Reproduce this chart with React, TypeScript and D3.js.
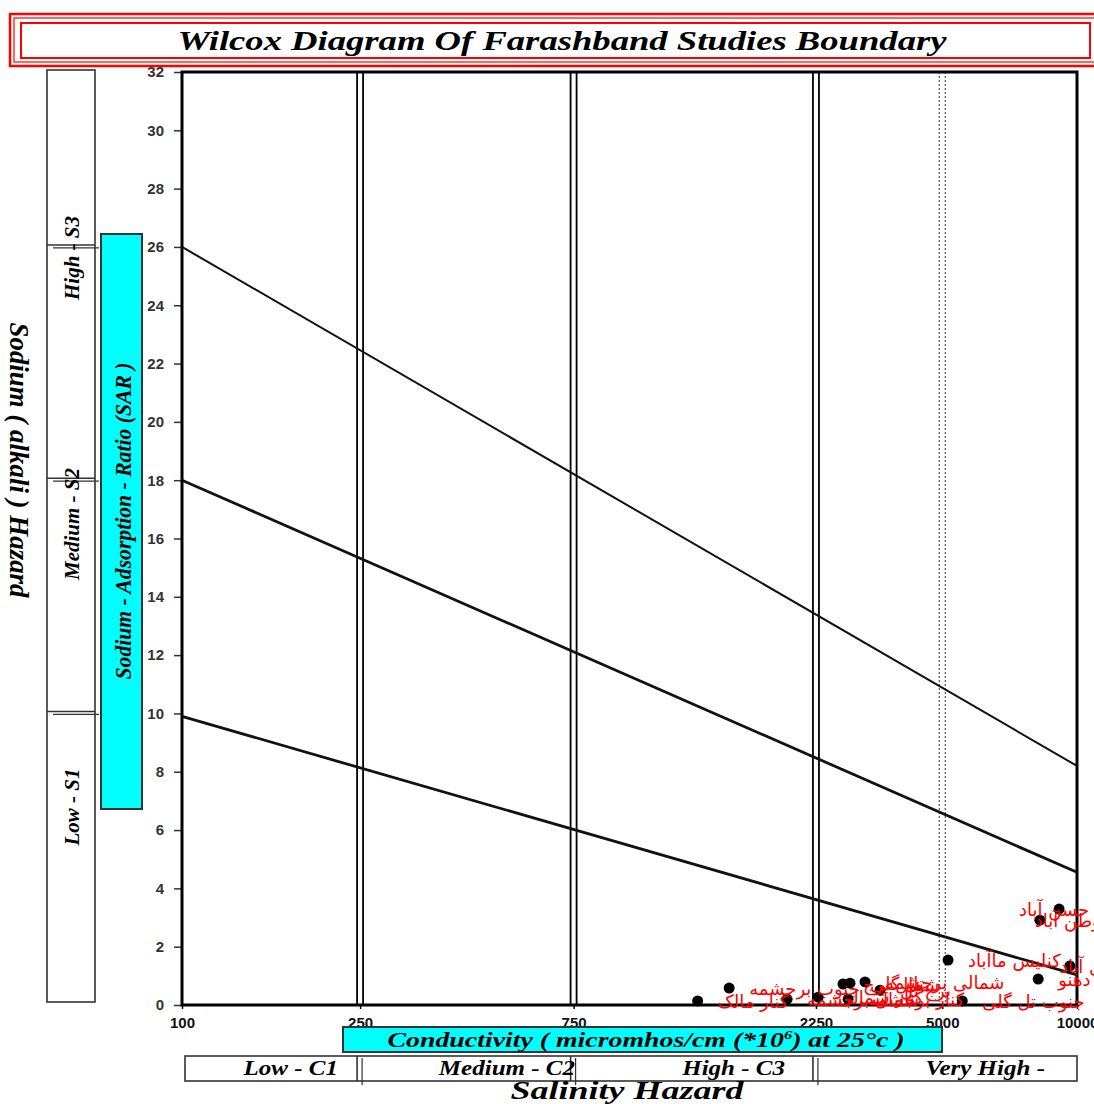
import React, { useEffect, useRef } from "react";
import * as d3 from "d3";

// axis ticks
const sarTicks = [0, 2, 4, 6, 8, 10, 12, 14, 16, 18, 20, 22, 24, 26, 28, 30, 32];
const ecTicks = [100, 250, 750, 2610, 5000, 10000];
const ecTickLabels = ["100", "250", "750", "2250", "5000", "10000"];

// class boundaries
const salinityBounds = [250, 750, 2610];
const veryHighBound = 5000;
const salinityClasses = ["Low - C1", "Medium - C2", "High - C3", "Very High -"];
const sodiumBounds = [10, 18, 26];
const sodiumClasses = ["Low - S1", "Medium - S2", "High - S3"];

// sodium hazard lines: SAR at EC=100 and at EC=10000
const hazardStart = [26, 18, 9.9];
const hazardEnd = [8.2, 4.55, 1.03];

// samples
const sampleNames = [
  "کنار مالک",
  "جنوب برجشمه",
  "شمال برجشمه",
  "کنار شمالی",
  "شمال برج",
  "تل گلی",
  "شمالی برجشمه",
  "برج تل",
  "کنار برجشمه",
  "کنلیس ماآباد",
  "جنوب تل گلی",
  "دهنو",
  "وطن آباد",
  "حسن آباد",
  "شمال آباد",
];
const sampleEC = [1420, 1670, 2250, 2640, 3000, 3110, 3360, 3630, 3080, 5150, 5540, 8190, 8260, 9120, 9640];
const sampleSAR = [0.14, 0.58, 0.2, 0.27, 0.72, 0.75, 0.79, 0.51, 0.2, 1.54, 0.14, 0.89, 2.91, 3.29, 1.34];

const W = 1094;
const H = 1104;

const App: React.FC = () => {
  const svgRef = useRef<SVGSVGElement>(null);

  useEffect(() => {
    if (!svgRef.current) return;
    document.body.style.margin = "0";
    const svg = d3.select(svgRef.current);
    svg.selectAll("*").remove();
    svg.attr("width", W).attr("height", H);

    const left = 182, right = 1077, top = 72, bottom = 1005;
    const x = d3.scaleLog().domain([100, 10000]).range([left, right]);
    const y = d3.scaleLinear().domain([0, 32]).range([bottom, top]);

    const serif = "'Liberation Serif', 'Times New Roman', serif";
    const sans = "'Liberation Sans', Arial, sans-serif";

    // stretch a serif label horizontally like the original
    const widen = (t: d3.Selection<SVGTextElement, unknown, null, undefined>, k: number) => {
      const len = (t.node() as SVGTextElement).getComputedTextLength();
      t.attr("textLength", len * k).attr("lengthAdjust", "spacingAndGlyphs");
    };

    // title box
    const tb = svg.append("g").attr("fill", "none").attr("stroke", "#ff0000");
    tb.append("rect").attr("x", 10).attr("y", 14).attr("width", 1092).attr("height", 52).attr("stroke-width", 2.5);
    tb.append("rect").attr("x", 14).attr("y", 18).attr("width", 1084).attr("height", 44).attr("stroke-width", 1.2);
    tb.append("rect").attr("x", 21).attr("y", 23).attr("width", 1069).attr("height", 35).attr("stroke-width", 2);
    svg
      .append("text")
      .attr("x", 562)
      .attr("y", 50)
      .attr("text-anchor", "middle")
      .attr("font-family", serif)
      .attr("font-weight", "bold")
      .attr("font-style", "italic")
      .attr("font-size", 28)
      .attr("textLength", 769)
      .attr("lengthAdjust", "spacingAndGlyphs")
      .text("Wilcox Diagram Of Farashband Studies Boundary");

    // y axis
    const yAxis = svg
      .append("g")
      .attr("transform", `translate(${left},0)`)
      .call(d3.axisLeft(y).tickValues(sarTicks).tickSize(8).tickPadding(10));
    yAxis.select(".domain").remove();
    yAxis.selectAll("line").attr("stroke", "#333").attr("stroke-width", 1.5);
    yAxis
      .selectAll("text")
      .attr("font-family", sans)
      .attr("font-weight", "bold")
      .attr("font-size", 15)
      .attr("fill", "#333");

    // x axis
    const xAxis = svg
      .append("g")
      .attr("transform", `translate(0,${bottom})`)
      .call(
        d3
          .axisBottom(x)
          .tickValues(ecTicks)
          .tickFormat((_d, i) => ecTickLabels[i])
          .tickSize(4)
          .tickPadding(8)
      );
    xAxis.select(".domain").remove();
    xAxis.selectAll("line").attr("stroke", "#000").attr("stroke-width", 1.5);
    xAxis
      .selectAll("text")
      .attr("font-family", sans)
      .attr("font-weight", "bold")
      .attr("font-size", 15)
      .attr("fill", "#111");

    // salinity boundaries (double lines)
    salinityBounds.forEach((b) => {
      [-3, 3].forEach((o) => {
        svg
          .append("line")
          .attr("x1", x(b) + o)
          .attr("x2", x(b) + o)
          .attr("y1", top)
          .attr("y2", bottom)
          .attr("stroke", "#000")
          .attr("stroke-width", 1.8);
      });
    });
    [-3, 3].forEach((o) => {
      svg
        .append("line")
        .attr("x1", x(veryHighBound) + o)
        .attr("x2", x(veryHighBound) + o)
        .attr("y1", top)
        .attr("y2", bottom)
        .attr("stroke", "#555")
        .attr("stroke-width", 1.2)
        .attr("stroke-dasharray", "2,2");
    });

    // sodium hazard lines
    const line = d3
      .line<[number, number]>()
      .x((d) => x(d[0]))
      .y((d) => y(d[1]));
    hazardStart.forEach((s, i) => {
      svg
        .append("path")
        .attr("d", line([[100, s], [10000, hazardEnd[i]]]))
        .attr("fill", "none")
        .attr("stroke", "#111")
        .attr("stroke-width", i === 0 ? 2 : 2.8);
    });

    // frame
    svg
      .append("rect")
      .attr("x", left)
      .attr("y", top)
      .attr("width", right - left)
      .attr("height", bottom - top)
      .attr("fill", "none")
      .attr("stroke", "#000")
      .attr("stroke-width", 3);

    // samples
    sampleEC.forEach((ec, i) => {
      svg
        .append("circle")
        .attr("cx", x(ec))
        .attr("cy", y(sampleSAR[i]))
        .attr("r", 5.5)
        .attr("fill", "#000");
    });
    const labelDx = [20, 20, 20, 20, 20, 20, 20, 20, 20, 20, 20, 20, -5, -40, -10];
    sampleEC.forEach((ec, i) => {
      svg
        .append("text")
        .attr("x", x(ec) + labelDx[i])
        .attr("y", y(sampleSAR[i]) + 7)
        .attr("text-anchor", "start")
        .attr("direction", "ltr")
        .attr("font-family", "'DejaVu Sans', sans-serif")
        .attr("font-size", 18)
        .attr("fill", "#ff0000")
        .text(sampleNames[i]);
    });

    // sodium hazard column
    svg
      .append("rect")
      .attr("x", 47)
      .attr("y", y(32) - 2)
      .attr("width", 48)
      .attr("height", y(0) - y(32) - 1)
      .attr("fill", "none")
      .attr("stroke", "#333")
      .attr("stroke-width", 1.6);
    sodiumBounds.forEach((b) => {
      svg.append("line").attr("x1", 47).attr("x2", 95).attr("y1", y(b) - 2).attr("y2", y(b) - 2)
        .attr("stroke", "#333").attr("stroke-width", 1.6);
      svg.append("line").attr("x1", 53).attr("x2", 99).attr("y1", y(b) + 1).attr("y2", y(b) + 1)
        .attr("stroke", "#333").attr("stroke-width", 1.2);
    });
    const sodiumLabelY = [807, 524, 258];
    sodiumClasses.forEach((c, i) => {
      svg
        .append("text")
        .attr("transform", `translate(72,${sodiumLabelY[i]}) rotate(-90)`)
        .attr("text-anchor", "middle")
        .attr("dominant-baseline", "central")
        .attr("font-family", serif)
        .attr("font-weight", "bold")
        .attr("font-style", "italic")
        .attr("font-size", 21)
        .text(c);
    });

    // SAR label box
    svg
      .append("rect")
      .attr("x", 101)
      .attr("y", 234)
      .attr("width", 41)
      .attr("height", 575)
      .attr("fill", "#00ffff")
      .attr("stroke", "#333")
      .attr("stroke-width", 2);
    svg
      .append("text")
      .attr("transform", "translate(123,521) rotate(-90)")
      .attr("text-anchor", "middle")
      .attr("dominant-baseline", "central")
      .attr("font-family", serif)
      .attr("font-weight", "bold")
      .attr("font-style", "italic")
      .attr("font-size", 23)
      .attr("textLength", 317)
      .attr("lengthAdjust", "spacingAndGlyphs")
      .text("Sodium - Adsorption - Ratio (SAR )");

    svg
      .append("text")
      .attr("transform", "translate(19,460) rotate(90)")
      .attr("text-anchor", "middle")
      .attr("dominant-baseline", "central")
      .attr("font-family", serif)
      .attr("font-weight", "bold")
      .attr("font-style", "italic")
      .attr("font-size", 27)
      .attr("textLength", 275)
      .attr("lengthAdjust", "spacingAndGlyphs")
      .text("Sodium ( alkali ) Hazard");

    // conductivity box
    svg
      .append("rect")
      .attr("x", 343)
      .attr("y", 1027)
      .attr("width", 599)
      .attr("height", 25)
      .attr("fill", "#00ffff")
      .attr("stroke", "#333")
      .attr("stroke-width", 2);
    const ct = svg
      .append("text")
      .attr("x", 646)
      .attr("y", 1047)
      .attr("text-anchor", "middle")
      .attr("font-family", serif)
      .attr("font-weight", "bold")
      .attr("font-style", "italic")
      .attr("font-size", 22);
    ct.append("tspan").text("Conductivity ( micromhos/cm (*10");
    ct.append("tspan").attr("font-size", 13).attr("dy", -8).text("6");
    ct.append("tspan").attr("dy", 8).text(") at 25°c )");
    ct.attr("textLength", 517).attr("lengthAdjust", "spacingAndGlyphs");

    // salinity hazard box
    svg
      .append("rect")
      .attr("x", left + 3)
      .attr("y", 1056)
      .attr("width", right - left - 3)
      .attr("height", 25)
      .attr("fill", "none")
      .attr("stroke", "#333")
      .attr("stroke-width", 1.6);
    salinityBounds.forEach((b) => {
      svg.append("line").attr("x1", x(b) - 3).attr("x2", x(b) - 3).attr("y1", 1056).attr("y2", 1081)
        .attr("stroke", "#333").attr("stroke-width", 1.6);
      svg.append("line").attr("x1", x(b) + 2).attr("x2", x(b) + 2).attr("y1", 1058).attr("y2", 1085)
        .attr("stroke", "#333").attr("stroke-width", 1.2);
    });
    const salinityLabelEnd = [338, 575, 785, 1045];
    salinityClasses.forEach((c, i) => {
      const t = svg
        .append("text")
        .attr("x", salinityLabelEnd[i])
        .attr("y", 1075)
        .attr("text-anchor", "end")
        .attr("font-family", serif)
        .attr("font-weight", "bold")
        .attr("font-style", "italic")
        .attr("font-size", 20)
        .text(c);
      widen(t, 1.25);
    });
    svg
      .append("text")
      .attr("x", 627)
      .attr("y", 1099)
      .attr("text-anchor", "middle")
      .attr("font-family", serif)
      .attr("font-weight", "bold")
      .attr("font-style", "italic")
      .attr("font-size", 25)
      .attr("textLength", 233)
      .attr("lengthAdjust", "spacingAndGlyphs")
      .text("Salinity  Hazard");
  }, []);

  return <svg ref={svgRef} style={{ display: "block", background: "#fff" }} />;
};

export default App;
